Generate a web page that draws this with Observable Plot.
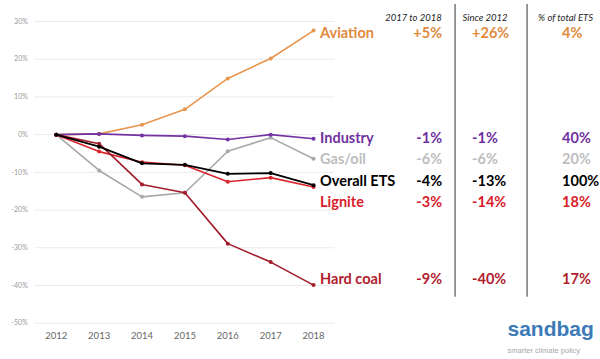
<!DOCTYPE html>
<html>
<head>
<meta charset="utf-8">
<script src="https://cdn.jsdelivr.net/npm/d3@7"></script>
<script src="https://cdn.jsdelivr.net/npm/@observablehq/plot@0.6"></script>
<style>
  html, body { margin: 0; padding: 0; background: #fff; }
</style>
</head>
<body>
<div id="chart"></div>
<script>
// ---- data ----
const years = [2012, 2013, 2014, 2015, 2016, 2017, 2018];
const seriesNames = ["Gas/oil", "Aviation", "Industry", "Lignite", "Hard coal", "Overall ETS"];
const aviation   = [0, 0.2, 2.6, 6.7, 14.9, 20.2, 27.6];
const industry   = [0, 0.2, -0.2, -0.4, -1.3, 0.0, -1.1];
const gasOil     = [0, -9.5, -16.5, -15.4, -4.4, -0.8, -6.4];
const overallETS = [0, -3.2, -7.6, -8.0, -10.4, -10.2, -13.4];
const lignite    = [0, -4.5, -7.3, -8.1, -12.5, -11.4, -13.9];
const hardCoal   = [0, -2.4, -13.2, -15.4, -28.9, -33.8, -39.9];
const yTicks = [30, 20, 10, 0, -10, -20, -30, -40, -50];

// table on the right
const tableNames = ["Aviation", "Industry", "Gas/oil", "Overall ETS", "Lignite", "Hard coal"];
const change1718 = ["+5%", "-1%", "-6%", "-4%", "-3%", "-9%"];
const since2012  = ["+26%", "-1%", "-6%", "-13%", "-14%", "-40%"];
const shareOfETS = ["4%", "40%", "20%", "100%", "18%", "17%"];
const headers    = ["2017 to 2018", "Since 2012", "% of total ETS"];
const logoText   = ["sandbag", "smarter climate policy"];

// ---- styles ----
const lineColor = {
  "Aviation": "#E8964F", "Industry": "#7433A3", "Gas/oil": "#A8A8A8",
  "Overall ETS": "#000000", "Lignite": "#D9262C", "Hard coal": "#A11B2B"
};
const textColor = {
  "Aviation": "#E08A40", "Industry": "#7030A0", "Gas/oil": "#BDBDBD",
  "Overall ETS": "#000000", "Lignite": "#D9202A", "Hard coal": "#B0202E"
};
const labelDy = {
  "Aviation": 3.3, "Industry": -0.7, "Gas/oil": 0.3,
  "Overall ETS": -3.6, "Lignite": 15.7, "Hard coal": -6
};

const seriesValues = {
  "Aviation": aviation, "Industry": industry, "Gas/oil": gasOil,
  "Overall ETS": overallETS, "Lignite": lignite, "Hard coal": hardCoal
};
const rows = seriesNames.flatMap(s => years.map((y, i) => ({series: s, year: y, value: seriesValues[s][i]})));
const lastRow = name => ({series: name, year: 2018, value: seriesValues[name][years.length - 1]});
const table = tableNames.map((n, i) => ({...lastRow(n), c1: change1718[i], c2: since2012[i], c3: shareOfETS[i]}));

const font = "Lato, 'Open Sans', sans-serif";
const labelSize = 14.5;

const marks = [
  Plot.ruleY(yTicks, {stroke: "#ebebeb", strokeWidth: 1}),
  Plot.axisY({ticks: yTicks, tickSize: 0, tickPadding: 7, tickFormat: d => d + "%", fontSize: 7, fill: "#999", label: null}),
  Plot.axisX({ticks: years, tickSize: 0, tickPadding: 9, tickFormat: d => String(d), fontSize: 9.5, fill: "#666", label: null}),
];
for (const s of seriesNames) {
  const data = rows.filter(r => r.series === s);
  marks.push(Plot.line(data, {x: "year", y: "value", stroke: lineColor[s], strokeWidth: s === "Overall ETS" ? 1.8 : 1.6}));
  marks.push(Plot.dot(data, {x: "year", y: "value", fill: lineColor[s], r: 2}));
}
for (const t of table) {
  const common = {x: "year", y: "value", dy: labelDy[t.series], fill: textColor[t.series], fontSize: labelSize, fontWeight: "bold", fontFamily: font};
  marks.push(Plot.text([t], {...common, text: d => d.series, dx: 6.5, textAnchor: "start"}));
  marks.push(Plot.text([t], {...common, text: d => d.c1, dx: 128.5, textAnchor: "end"}));
  marks.push(Plot.text([t], {...common, text: d => d.c2, dx: 158.5, textAnchor: "start"}));
  marks.push(Plot.text([t], {...common, text: d => d.c3, dx: 248.5, textAnchor: "start"}));
}
// headers
const headerDx = [99.9, 171.5, 252];
headers.forEach((h, i) => {
  marks.push(Plot.text([h], {x: () => 2018, frameAnchor: "top", dy: -7, dx: headerDx[i], text: d => d, textAnchor: "middle", fontSize: 9.5, fontStyle: "italic", fill: "#222", fontFamily: font}));
});
// dividers
marks.push(Plot.ruleX([2018], {dx: 141.5, insetTop: -17, insetBottom: 26, stroke: "#333", strokeWidth: 1}));
marks.push(Plot.ruleX([2018], {dx: 213.5, insetTop: -17, insetBottom: 26, stroke: "#333", strokeWidth: 1}));
// logo
marks.push(Plot.text([logoText[0]], {frameAnchor: "bottom-right", dx: 172.5, dy: 12.5, text: d => d, textAnchor: "start", fontSize: 21, fontWeight: "bold", fill: "#3C7AB8", fontFamily: "'Liberation Sans', Arial, sans-serif", letterSpacing: "-0.4px"}));
marks.push(Plot.text([logoText[1]], {frameAnchor: "bottom-right", dx: 172.5, dy: 29.3, text: d => d, textAnchor: "start", fontSize: 7.5, fill: "#a8a8a8", fontFamily: "'Liberation Sans', Arial, sans-serif"}));

const chart = Plot.plot({
  width: 600,
  height: 359,
  marginLeft: 34.3,
  marginRight: 265.5,
  marginTop: 21,
  marginBottom: 36.3,
  x: {type: "linear", domain: [2011.5, 2018.5]},
  y: {domain: [-50, 30]},
  style: {fontFamily: font, background: "#fff", overflow: "visible"},
  marks
});
document.getElementById("chart").appendChild(chart);
</script>
</body>
</html>
